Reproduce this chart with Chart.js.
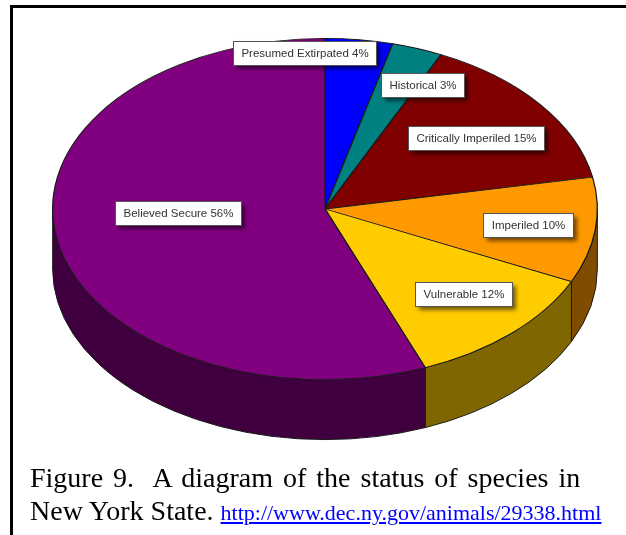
<!DOCTYPE html>
<html>
<head>
<meta charset="utf-8" />
<script src="https://cdn.jsdelivr.net/npm/chart.js@4.4.1/dist/chart.umd.min.js"></script>
<style>
  html,
  body {
    margin: 0;
    padding: 0;
    background: #fff;
    overflow: hidden;
    width: 626px;
    height: 535px;
  }
  #frame {
    position: absolute;
    left: 10px;
    top: 5px;
    width: 640px;
    height: 560px;
    border-left: 3px solid #000;
    border-top: 3px solid #000;
  }
  #wrap {
    position: absolute;
    left: 0;
    top: 0;
    width: 626px;
    height: 600px;
  }
  #caption {
    position: absolute;
    left: 30px;
    top: 461px;
    width: 600px;
    font-family: "Liberation Serif", "Times New Roman", serif;
    font-size: 28px;
    line-height: 33px;
    color: #000;
    white-space: nowrap;
  }
  #caption .first {
    word-spacing: 3px;
  }
  #caption a {
    font-size: 22px;
    color: #0000ff;
    text-decoration: underline;
  }
</style>
</head>
<body>
<div id="frame"></div>
<div id="wrap"><canvas id="pie" width="626" height="600"></canvas></div>
<div id="caption">
  <span class="first">Figure 9.&nbsp; A diagram of the status of species in</span><br />
  New York State. <a href="#">http://www.dec.ny.gov/animals/29338.html</a>
</div>
<script>
// species status categories, clockwise from 12 o'clock
const categories = ["Presumed Extirpated", "Historical", "Critically Imperiled", "Imperiled", "Vulnerable", "Believed Secure"];
const percents = [4, 3, 15, 10, 12, 56];
const sliceColors = ["#0000ff", "#008080", "#800000", "#ff9900", "#ffcc00", "#800080"];

// darker shade for the rim of the 3d pie
const shade = (hex, k) => {
  const n = parseInt(hex.slice(1), 16);
  const r = Math.round(((n >> 16) & 255) * k);
  const g = Math.round(((n >> 8) & 255) * k);
  const b = Math.round((n & 255) * k);
  return `rgb(${r},${g},${b})`;
};

const tilt = {
  centerY: 209, // where the top face centre lands on the page
  ratio: 171 / 273, // vertical squash of the top face
  depth: 60,
};

// label placement: fraction of radius along the slice middle, plus a small nudge [dx, dy]
const labelRadius = [0.92, 0.77, 0.7, 0.75, 0.72, 0.55];
const labelNudge = [[-52, 0], [26, 0], [0, 2], [0, 0], [4, -5], [0, -14]];

const toPage = (arc, y) => tilt.centerY + (y - arc.y) * tilt.ratio;

const pie3d = {
  id: "pie3d",
  beforeDatasetsDraw: (chart) => {
    const ctx = chart.ctx;
    const arcs = chart.getDatasetMeta(0).data;
    const cx = arcs[0].x;
    const cy = tilt.centerY;
    const rx = arcs[0].outerRadius;
    const ry = rx * tilt.ratio;
    ctx.save();
    arcs.forEach((arc, i) => {
      const lo = Math.max(arc.startAngle, 0);
      const hi = Math.min(arc.endAngle, Math.PI);
      if (lo >= hi) return;
      ctx.beginPath();
      ctx.ellipse(cx, cy, rx, ry, 0, lo, hi);
      ctx.lineTo(cx + rx * Math.cos(hi), cy + ry * Math.sin(hi) + tilt.depth);
      ctx.ellipse(cx, cy + tilt.depth, rx, ry, 0, hi, lo, true);
      ctx.closePath();
      ctx.fillStyle = shade(sliceColors[i], 0.5);
      ctx.fill();
      ctx.lineWidth = 1;
      ctx.strokeStyle = "#1a1a1a";
      ctx.stroke();
    });
    ctx.restore();
    // squash the flat pie drawn by chart.js into the top face
    ctx.save();
    ctx.translate(0, cy);
    ctx.scale(1, tilt.ratio);
    ctx.translate(0, -arcs[0].y);
  },
  afterDatasetsDraw: (chart) => {
    const ctx = chart.ctx;
    ctx.restore();
    const arcs = chart.getDatasetMeta(0).data;
    ctx.save();
    ctx.font = "11.5px 'Liberation Sans', Arial, sans-serif";
    ctx.textAlign = "center";
    ctx.textBaseline = "middle";
    arcs.forEach((arc, i) => {
      const mid = (arc.startAngle + arc.endAngle) / 2;
      const f = labelRadius[i];
      const x = arc.x + arc.outerRadius * f * Math.cos(mid) + labelNudge[i][0];
      const y = toPage(arc, arc.y + arc.outerRadius * f * Math.sin(mid)) + labelNudge[i][1];
      const text = `${categories[i]} ${percents[i]}%`;
      const w = Math.round(ctx.measureText(text).width + 16);
      const h = 24;
      const bx = Math.round(x - w / 2) + 0.5;
      const by = Math.round(y - h / 2) + 0.5;
      ctx.shadowColor = "rgba(0,0,0,0.55)";
      ctx.shadowBlur = 4;
      ctx.shadowOffsetX = 3;
      ctx.shadowOffsetY = 3;
      ctx.fillStyle = "#fff";
      ctx.fillRect(bx, by, w, h);
      ctx.shadowColor = "transparent";
      ctx.lineWidth = 1;
      ctx.strokeStyle = "#555";
      ctx.strokeRect(bx, by, w, h);
      ctx.fillStyle = "#333";
      ctx.fillText(text, bx + w / 2, by + h / 2 + 0.5);
    });
    ctx.restore();
  },
};

const ctx = document.getElementById("pie");
const myChart = new Chart(ctx, {
  type: "pie",
  data: {
    labels: categories,
    datasets: [
      {
        data: percents,
        backgroundColor: sliceColors,
        borderColor: "#1a1a1a",
        borderWidth: 1.3,
        clip: false,
      },
    ],
  },
  options: {
    responsive: false,
    animation: false,
    events: [],
    layout: {
      padding: { left: 52, right: 28, top: 20, bottom: 34 },
    },
    plugins: {
      legend: { display: false },
      tooltip: { enabled: false },
      title: { display: false },
    },
  },
  plugins: [pie3d],
});
</script>
</body>
</html>
